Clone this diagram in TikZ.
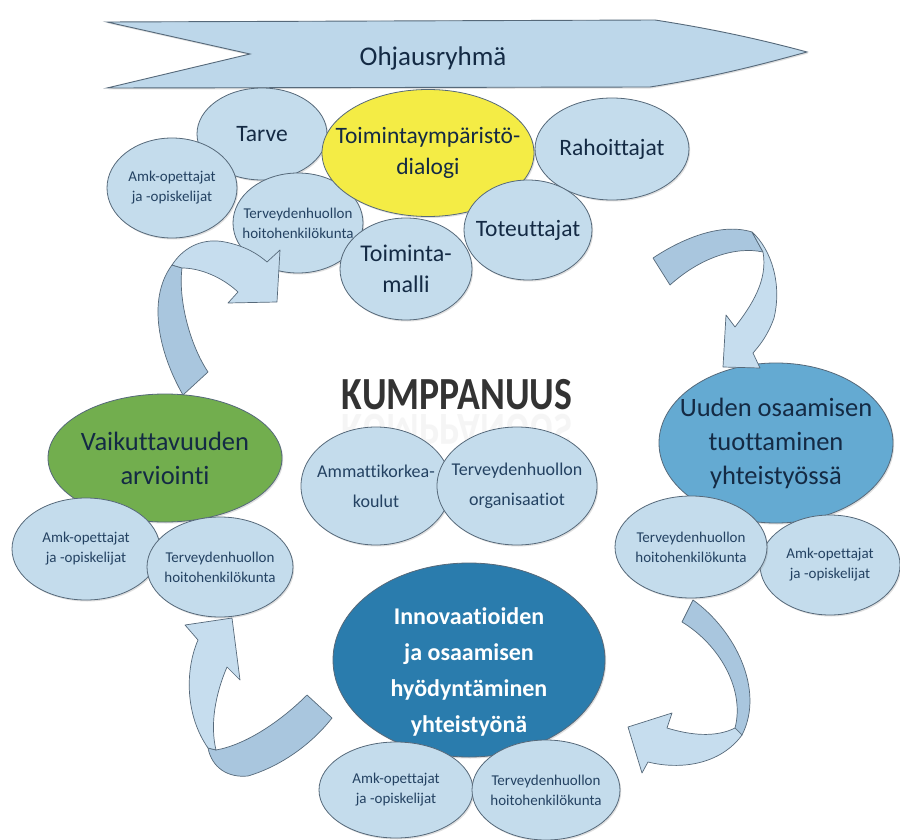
\documentclass[tikz,border=0pt]{standalone}
\usepackage{fontspec}
\setmainfont{Carlito}[Ligatures={NoCommon}]
\usetikzlibrary{shapes.geometric,shadows}
\definecolor{lb}{HTML}{C4DCEC}
\definecolor{edgec}{HTML}{56697A}
\definecolor{bannerc}{HTML}{BDD7EA}
\definecolor{yel}{HTML}{F4EC45}
\definecolor{grn}{HTML}{72AE4E}
\definecolor{midb}{HTML}{64AAD2}
\definecolor{darkb}{HTML}{2A7CAD}
\definecolor{arl}{HTML}{C6DDEE}
\definecolor{ard}{HTML}{A9C6DE}
\definecolor{txt}{HTML}{142A44}
\definecolor{stxt}{HTML}{244262}
\tikzset{
  ell/.style={ellipse, draw=edgec, line width=0.8pt, fill=lb, inner sep=0pt,
    drop shadow={shadow xshift=1.2pt, shadow yshift=-1.5pt, opacity=0.25}},
  big/.style={align=center, text=txt, font=\fontsize{23.5}{31}\selectfont},
  mid/.style={align=center, text=txt, font=\fontsize{26.5}{34}\selectfont},
  small/.style={align=center, text=stxt, font=\fontsize{15}{20}\selectfont},
  csmall/.style={align=center, text=stxt, font=\fontsize{18}{30}\selectfont},
  arrowpart/.style={draw=edgec, line width=0.7pt, line join=round}
}
\begin{document}
\begin{tikzpicture}[x=1pt,y=-1pt]
\useasboundingbox (0,0) rectangle (900,840);
\fill[white] (0,0) rectangle (900,840);

% banner
\draw[fill=bannerc, draw=edgec, line width=0.9pt,
  drop shadow={shadow xshift=1.2pt, shadow yshift=-1.5pt, opacity=0.25}]
  (107,22) -- (655,20) .. controls (720,30) and (770,42) .. (807,52)
  .. controls (770,62) and (720,76) .. (650,87) -- (107,88) -- (250,54) -- cycle;
\node[text=txt, font=\fontsize{27}{30}\selectfont] (ohj) at (433,58) {Ohjausryhmä};

% top cluster
\node[ell, minimum width=130pt, minimum height=92pt,
  label={[big]center:Tarve}] (tarve) at (262,134) {};
\node[ell, minimum width=130pt, minimum height=100pt,
  label={[small]center:Amk-opettajat\\ja -opiskelijat}] (amk1) at (172,188) {};
\node[ell, minimum width=130pt, minimum height=100pt,
  label={[small]center:Terveydenhuollon\\hoitohenkilökunta}] (ter1) at (298,223) {};
\node[ell, minimum width=132pt, minimum height=102pt,
  label={[big, font=\fontsize{24}{31}\selectfont]center:Toiminta-\\malli}] (malli) at (406,269) {};
\node[ell, minimum width=154pt, minimum height=102pt,
  label={[big]center:Rahoittajat}] (raho) at (612,149) {};
\node[ell, fill=yel, minimum width=212pt, minimum height=127pt,
  label={[big]center:Toimintaympäristö-\\dialogi}] (dialogi) at (428,153) {};
\node[ell, minimum width=128pt, minimum height=100pt,
  label={[big]center:Toteuttajat}] (toteut) at (528,230) {};

% left cluster
\node[ell, fill=grn, minimum width=234pt, minimum height=128pt,
  label={[mid]center:Vaikuttavuuden\\arviointi}] (vaik) at (165,458) {};
\node[ell, minimum width=148pt, minimum height=102pt,
  label={[small]center:Amk-opettajat\\ja -opiskelijat}] (amk2) at (86,549) {};
\node[ell, minimum width=146pt, minimum height=100pt,
  label={[small]center:Terveydenhuollon\\hoitohenkilökunta}] (ter2) at (220,567) {};

% right cluster
\node[ell, fill=midb, minimum width=234pt, minimum height=160pt,
  label={[mid]center:Uuden osaamisen\\tuottaminen\\yhteistyössä}] (uuden) at (776,443) {};
\node[ell, minimum width=140pt, minimum height=100pt,
  label={[small]center:Amk-opettajat\\ja -opiskelijat}] (amk3) at (830,565) {};
\node[ell, minimum width=152pt, minimum height=102pt,
  label={[small]center:Terveydenhuollon\\hoitohenkilökunta}] (ter3) at (691,547) {};

% centre
\node[anchor=base, inner sep=0pt, text=black!12, opacity=0.3, yscale=-1,
  font=\fontsize{46}{50}\bfseries] (kumpref) at (457,414)
  {\scalebox{0.82}[1]{KUMPPANUUS}};
\node[anchor=base, inner sep=0pt, text=black!80,
  font=\fontsize{46}{50}\bfseries] (kump) at (457,409)
  {\scalebox{0.82}[1]{KUMPPANUUS}};
\node[ell, minimum width=150pt, minimum height=118pt,
  label={[csmall]center:Ammattikorkea-\\koulut}] (amkk) at (376,486) {};
\node[ell, minimum width=160pt, minimum height=118pt,
  label={[csmall]center:Terveydenhuollon\\organisaatiot}] (torg) at (517,486) {};

% bottom cluster
\node[ell, fill=darkb, minimum width=272pt, minimum height=194pt,
  label={[align=center, text=white, yshift=-12pt, font=\fontsize{24}{36}\bfseries]center:Innovaatioiden\\ja osaamisen\\hyödyntäminen\\yhteistyönä}] (inno) at (469,660) {};
\node[ell, minimum width=154pt, minimum height=96pt,
  label={[small]center:Amk-opettajat\\ja -opiskelijat}] (amk4) at (396,790) {};
\node[ell, minimum width=148pt, minimum height=100pt,
  label={[small]center:Terveydenhuollon\\hoitohenkilökunta}] (ter4) at (546,790) {};

% arrow 1 (top left)
\draw[arrowpart, fill=ard] (183,395) .. controls (160,355) and (146,300) .. (172,265)
  -- (182,268) .. controls (178,300) and (190,345) .. (208,372) -- cycle;
\draw[arrowpart, fill=arl] (172,265) .. controls (185,245) and (205,238) .. (225,242)
  .. controls (245,246) and (258,254) .. (267,262) -- (280,250) -- (277,302) -- (228,303)
  -- (238,292) .. controls (222,277) and (200,268) .. (182,268) -- cycle;

% arrow 2 (top right)
\draw[arrowpart, fill=ard] (653,258) .. controls (680,240) and (720,222) .. (752,232)
  -- (763,252) .. controls (735,246) and (700,258) .. (670,285) -- cycle;
\draw[arrowpart, fill=arl] (752,232) .. controls (772,250) and (782,285) .. (774,318)
  .. controls (768,335) and (760,345) .. (753,353) -- (760,368) -- (723,367) -- (726,315)
  -- (735,327) .. controls (752,305) and (768,280) .. (763,252) -- cycle;

% arrow 3 (right lower)
\draw[arrowpart, fill=ard] (693,600) .. controls (735,630) and (765,690) .. (742,735)
  -- (735,728) .. controls (745,690) and (720,645) .. (682,622) -- cycle;
\draw[arrowpart, fill=arl] (742,735) .. controls (720,765) and (680,770) .. (648,762)
  -- (642,773) -- (628,727) -- (672,713) -- (667,728)
  .. controls (690,735) and (715,738) .. (735,728) -- cycle;

% arrow 4 (bottom left)
\draw[arrowpart, fill=ard] (307,695) .. controls (280,722) and (245,745) .. (216,750)
  -- (208,748) .. controls (212,768) and (228,778) .. (248,776)
  .. controls (285,765) and (315,740) .. (332,718) -- cycle;
\draw[arrowpart, fill=arl] (208,748) .. controls (185,715) and (185,670) .. (198,640)
  -- (185,625) -- (232,618) -- (240,680) -- (227,667)
  .. controls (215,695) and (210,725) .. (216,750) -- cycle;
\end{tikzpicture}
\end{document}
